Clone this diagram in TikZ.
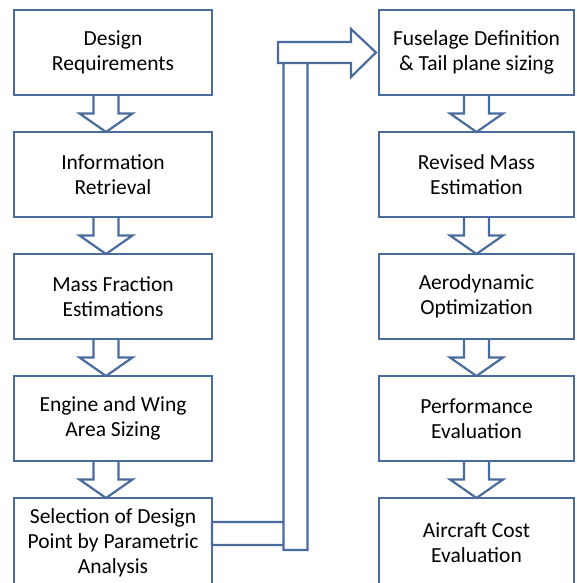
\documentclass[tikz,border=0pt]{standalone}
\usepackage{fontspec}
\setmainfont{Carlito}
\usetikzlibrary{calc,positioning}
\definecolor{flowblue}{HTML}{4A6B9D}

% block arrow from the bottom of one box to the top of the next
\newcommand{\stepdown}[3][0pt]{%
\draw[blockline] let \p1=($(#2.south)+(#1,0)$), \p2=($(#3.north)+(#1,0)$), \p3=($(\p1)!.5!(\p2)$) in
  (\x1-12.5pt,\y1) -- (\x1-12.5pt,\y3) -- (\x1-26.5pt,\y3) -- (\x1,\y2)
  -- (\x1+26.5pt,\y3) -- (\x1+12.5pt,\y3) -- (\x1+12.5pt,\y1);}

\begin{document}
\begin{tikzpicture}[
  stage/.style={draw=flowblue,line width=2.2pt,minimum width=198pt,minimum height=85pt,outer sep=0pt,inner sep=2pt,align=center,font=\fontsize{21.5}{25}\selectfont},
  lastrow/.style={minimum height=89pt},
  blockline/.style={draw=flowblue,line width=2.2pt,line join=miter}]

\useasboundingbox (0,0) rectangle (576pt,-583pt);

% Nodes
\node[stage] (req) at (113pt,-52.5pt) {Design\\Requirements};
\node[stage,below=37pt of req] (info) {Information\\Retrieval};
\node[stage,below=37pt of info] (mass) {Mass Fraction\\Estimations};
\node[stage,below=37pt of mass] (eng) {Engine and Wing\\Area Sizing};
\node[stage,lastrow,below=37pt of eng] (sel) {Selection of Design\\Point by Parametric\\Analysis};

\node[stage,minimum width=195pt] (fus) at (476.5pt,-52.5pt) {Fuselage Definition\\\& Tail plane sizing};
\node[stage,minimum width=195pt,below=37pt of fus] (rev) {Revised Mass\\Estimation};
\node[stage,minimum width=195pt,below=37pt of rev] (aero) {Aerodynamic\\Optimization};
\node[stage,minimum width=195pt,below=37pt of aero] (perf) {Performance\\Evaluation};
\node[stage,lastrow,minimum width=195pt,below=37pt of perf] (cost) {Aircraft Cost\\Evaluation};

%arrows
\stepdown[-7pt]{req}{info}
\stepdown[-7pt]{info}{mass}
\stepdown[-7pt]{mass}{eng}
\stepdown[-7pt]{eng}{sel}

\stepdown{fus}{rev}
\stepdown{rev}{aero}
\stepdown{aero}{perf}
\stepdown{perf}{cost}

% bent arrow from the left column up to the right one
\draw[blockline] let \p1=($(sel.north east)+(0,-43pt)$), \p2=(fus.west), \p3=($(sel.east)!.5!(fus.west)$) in
  (\x1,\y1+19pt) rectangle (\x3-12pt,\y1-4pt)
  (\x3-12pt,\y1-9pt) rectangle (\x3+12pt,\y2-10.5pt)
  (\x3-17.5pt,\y2+10.5pt) -- (\x2-28pt,\y2+10.5pt) -- (\x2-28pt,\y2+23.5pt) -- (\x2-3pt,\y2)
  -- (\x2-28pt,\y2-24.5pt) -- (\x2-28pt,\y2-10.5pt) -- (\x3-17.5pt,\y2-10.5pt) -- cycle;

\end{tikzpicture}
\end{document}
